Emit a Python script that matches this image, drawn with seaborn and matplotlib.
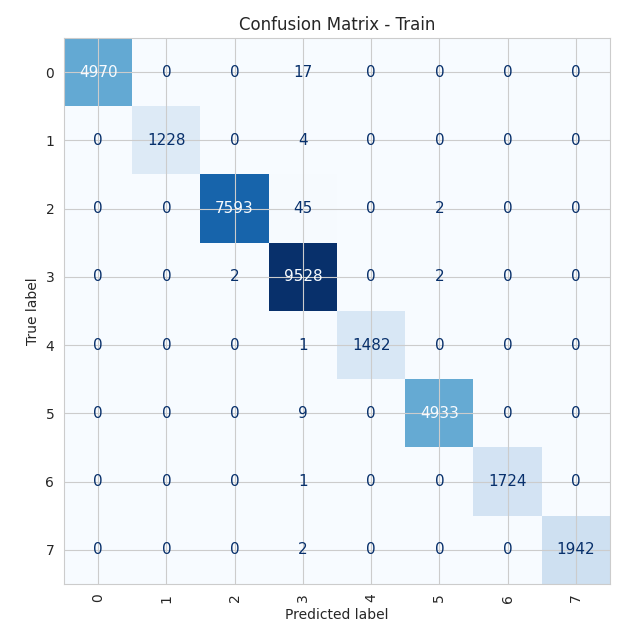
import numpy as np
import matplotlib
matplotlib.use("Agg")
import matplotlib.pyplot as plt
import seaborn as sns

labels = ["0", "1", "2", "3", "4", "5", "6", "7"]
cm = np.array([
    [4970, 0, 0, 17, 0, 0, 0, 0],
    [0, 1228, 0, 4, 0, 0, 0, 0],
    [0, 0, 7593, 45, 0, 2, 0, 0],
    [0, 0, 2, 9528, 0, 2, 0, 0],
    [0, 0, 0, 1, 1482, 0, 0, 0],
    [0, 0, 0, 9, 0, 4933, 0, 0],
    [0, 0, 0, 1, 0, 0, 1724, 0],
    [0, 0, 0, 2, 0, 0, 0, 1942],
])

sns.set_style("whitegrid")
fig, ax = plt.subplots(figsize=(6.4, 6.4), dpi=100)
cmap = plt.get_cmap("Blues")
ax.imshow(cm, cmap=cmap, interpolation="nearest")
thresh = (cm.max() + cm.min()) / 2
for i in range(cm.shape[0]):
    for j in range(cm.shape[1]):
        c = cmap(0.0) if cm[i, j] > thresh else cmap(1.0)
        ax.text(j, i, str(cm[i, j]), ha="center", va="center", color=c, fontsize=11)
ax.set_xticks(range(len(labels)))
ax.set_xticklabels(labels, rotation=90)
ax.set_yticks(range(len(labels)))
ax.set_yticklabels(labels)
ax.set_xlabel("Predicted label")
ax.set_ylabel("True label")
ax.set_title("Confusion Matrix - Train")
ax.set_xlim(-0.5, 7.5)
ax.set_ylim(7.5, -0.5)
fig.subplots_adjust(left=0.1, right=0.953, top=0.942, bottom=0.086)
fig.savefig("out.png", dpi=100)
